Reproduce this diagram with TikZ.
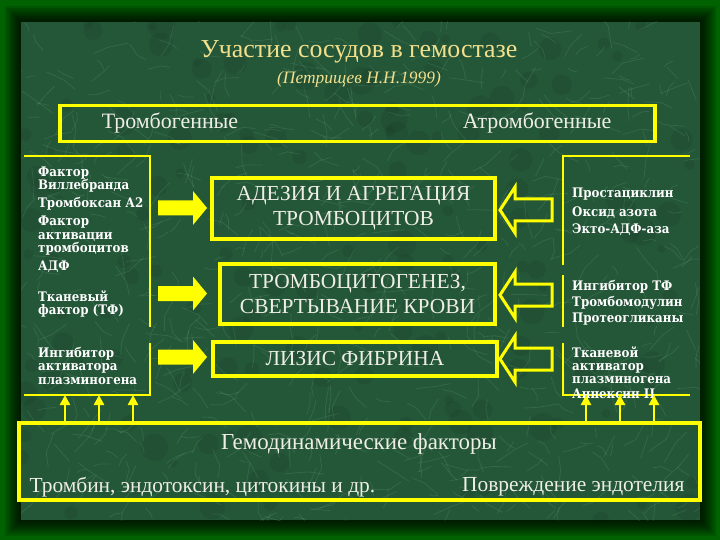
\documentclass[tikz,border=0pt]{standalone}
\usepackage{fontspec}
\setmainfont{Liberation Serif}
\newfontfamily\sidefont{DejaVu Serif Condensed}
\usetikzlibrary{arrows.meta,calc}
\definecolor{frameg}{RGB}{0,98,0}
\definecolor{marble}{RGB}{36,86,56}
\definecolor{vein}{RGB}{150,210,170}
\definecolor{gold}{RGB}{242,224,140}
\definecolor{ylw}{RGB}{255,255,0}
\definecolor{txt}{RGB}{238,238,230}
\tikzset{
  ybox/.style={draw=ylw, line width=3.2bp, inner sep=0pt, align=center, text=txt},
  boxtext/.style={text=txt, font=\fontsize{21.5}{25}\selectfont},
  sidetext/.style={text=white, font=\sidefont\bfseries\fontsize{13.2}{15}\selectfont, inner sep=0pt, anchor=base west},
  bracket/.style={draw=ylw, line width=2.6bp},
  uparr/.style={draw=ylw, line width=2.4bp, -{Triangle[length=10bp,width=10bp]}},
  outarrow/.style={draw=ylw, line width=3bp, line join=miter},
}
\newcommand\blockR[1]{\fill[ylw] (158,{#1-7.5}) -- (193,{#1-7.5}) -- (193,{#1-17}) -- (207,#1) -- (193,{#1+17}) -- (193,{#1+7.5}) -- (158,{#1+7.5}) -- cycle;}
\newcommand\blockL[1]{\draw[outarrow] (552,{#1-11}) -- (515,{#1-11}) -- (515,{#1-23}) -- (500,#1) -- (515,{#1+23}) -- (515,{#1+11}) -- (552,{#1+11}) -- cycle;}
\begin{document}
\begin{tikzpicture}[x=1bp,y=-1bp]
\useasboundingbox (0,0) rectangle (720,540);
% frame and shadow
\fill[frameg] (0,0) rectangle (720,540);
\foreach \d in {16,14,...,2}{\fill[black,opacity=0.13] ({21-\d},{22-\d}) rectangle ({700+\d},{520+\d});}
% marble panel
\fill[marble] (21,22) rectangle (700,520);
\begin{scope}
\clip (21,22) rectangle (700,520);
\pgfmathsetseed{11}
\foreach \i in {1,...,160}{
  \pgfmathsetmacro\xa{21+679*rnd}\pgfmathsetmacro\ya{22+498*rnd}\pgfmathsetmacro\rr{4+10*rnd}
  \fill[black,opacity=0.06] (\xa,\ya) circle (\rr);}
\foreach \i in {1,...,700}{
  \pgfmathsetmacro\xa{21+679*rnd}\pgfmathsetmacro\ya{22+498*rnd}
  \pgfmathsetmacro\an{360*rnd}\pgfmathsetmacro\le{5+18*rnd}\pgfmathsetmacro\bn{\an+70*rnd-35}
  \draw[vein,opacity=0.14,line width=0.8bp] (\xa,\ya) -- ++(\an:\le) -- ++(\bn:{0.7*\le});}
\end{scope}
% title
\node[text=gold, font=\fontsize{26}{30}\selectfont] (title) at (359,52) {Участие сосудов в гемостазе};
\node[text=gold, font=\itshape\fontsize{17.5}{20}\selectfont] (sub) at (359,79) {(Петрищев Н.Н.1999)};
% top box
\node[ybox, minimum width=595bp, minimum height=36bp] (top) at (357.5,123.5) {};
\node[boxtext, font=\fontsize{22}{26}\selectfont] (trombo) at (170,123) {Тромбогенные};
\node[boxtext, font=\fontsize{22}{26}\selectfont] (atrombo) at (537,123) {Атромбогенные};
% central boxes
\node[ybox, boxtext, minimum width=283bp, minimum height=61bp] (adh) at (353.5,208.5) {АДЕЗИЯ И АГРЕГАЦИЯ\\ТРОМБОЦИТОВ};
\node[ybox, boxtext, minimum width=275bp, minimum height=60bp] (coag) at (357.5,294) {ТРОМБОЦИТОГЕНЕЗ,\\СВЕРТЫВАНИЕ КРОВИ};
\node[ybox, boxtext, minimum width=284bp, minimum height=34bp] (lys) at (355,359) {ЛИЗИС ФИБРИНА};
% brackets
\draw[bracket] (24,156) -- (150,156) -- (150,327);
\draw[bracket] (150,343) -- (150,395) -- (24,395);
\draw[bracket] (690,156) -- (563,156) -- (563,265);
\draw[bracket] (563,275) -- (563,327);
\draw[bracket] (563,343) -- (563,395) -- (690,395);
% side texts
\foreach \t/\y [count=\i] in {Фактор/176.5, Виллебранда/189.5, Тромбоксан А2/207.5, Фактор/226, активации/239.5, тромбоцитов/253, АДФ/270.5, Тканевый/301.5, фактор (ТФ)/314.5, Ингибитор/357, активатора/370.5, плазминогена/384}
  \node[sidetext] (L\i) at (38,\y) {\t};
\foreach \t/\y [count=\i] in {Простациклин/197.5, Оксид азота/216.5, Экто-АДФ-аза/234, Ингибитор ТФ/290, Тромбомодулин/306, Протеогликаны/322.5, Тканевой/357, активатор/370.5, плазминогена/383.5, Аннексин II/398}
  \node[sidetext] (R\i) at (572,\y) {\t};
% block arrows
\blockR{208}\blockR{293.5}\blockR{357}
\blockL{210}\blockL{295}\blockL{359}
% bottom box
\node[ybox, minimum width=681bp, minimum height=77bp] (hemo) at (359.5,461.5) {};
\node[boxtext, font=\fontsize{23}{27}\selectfont] (hemot) at (359,444) {Гемодинамические факторы};
\node[boxtext, font=\fontsize{21.5}{25}\selectfont, anchor=west] (thr) at (26,487) {Тромбин, эндотоксин, цитокины и др.};
\node[boxtext, font=\fontsize{21.5}{25}\selectfont, anchor=east] (dam) at (688,487) {Повреждение эндотелия};
% small up arrows
\foreach \x [count=\i] in {65,99,133,586,620,654}{
  \coordinate (a\i) at (\x,395);
  \draw[uparr] (hemo.north -| a\i) -- (a\i);}
\end{tikzpicture}
\end{document}
